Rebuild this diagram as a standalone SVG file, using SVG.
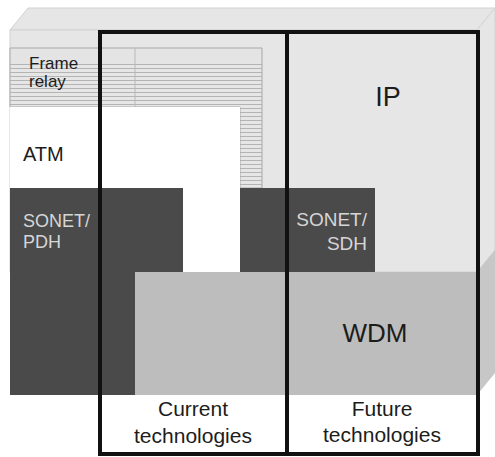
<svg xmlns="http://www.w3.org/2000/svg" width="495" height="457" viewBox="0 0 495 457">
  <defs>
    <!-- fine horizontal ruling used for the frame relay layer -->
    <pattern id="hatch" patternUnits="userSpaceOnUse" width="8" height="4">
      <rect width="8" height="4" fill="#e6e6e6"/>
      <line x1="0" y1="0.5" x2="8" y2="0.5" stroke="#b4b4b4" stroke-width="1"/>
    </pattern>
  </defs>
  <style>
    .lbl { font-family: "Liberation Sans", Arial, sans-serif; fill: #1c1c1c; }
    .inv { font-family: "Liberation Sans", Arial, sans-serif; fill: #d6d6d6; }
    .light { fill: #e6e6e6; stroke: #d2d2d2; stroke-width: 1; }
    .dark { fill: #4a4a4a; }
    .mid { fill: #bdbdbd; }
    .frame { fill: none; stroke: #111; stroke-width: 4; }
  </style>

  <rect width="495" height="457" fill="#ffffff"/>

  <!-- block faces: top and right side -->
  <g id="block">
    <polygon class="light" points="10,30 28,8 495,8 477,30"/>
    <polygon class="light" points="477,30 495,8 495,250 477,272"/>
    <polygon points="477,272 495,250 495,373 477,395" fill="#c7c7c7"/>
  </g>

  <!-- IP layer: light base of the upper front face -->
  <g id="ip">
    <rect class="light" x="10" y="30" width="467" height="242"/>
    <text class="lbl" x="388" y="106" font-size="27" text-anchor="middle">IP</text>
  </g>

  <!-- Frame relay layer (inverted L, ruled) -->
  <g id="frame-relay">
    <rect x="10" y="48" width="252" height="16" fill="#e4e4e4"/>
    <rect x="10" y="64" width="252" height="43" fill="url(#hatch)"/>
    <rect x="240" y="107" width="22" height="81" fill="url(#hatch)"/>
    <path d="M10,48 H262 V188 H240 V107 H10 Z" fill="none" stroke="#a8a8a8" stroke-width="1"/>
    <line x1="135" y1="48" x2="135" y2="107" stroke="#b8b8b8" stroke-width="1"/>
    <text class="lbl" x="29" y="69" font-size="17">Frame</text>
    <text class="lbl" x="29" y="87" font-size="17">relay</text>
  </g>

  <!-- ATM layer -->
  <g id="atm">
    <path d="M10,107 H240 V272 H183 V188 H10 Z" fill="#ffffff"/>
    <text class="lbl" x="23" y="161" font-size="20">ATM</text>
  </g>

  <!-- SONET/PDH layer -->
  <g id="sonet-pdh">
    <path class="dark" d="M10,188 H183 V272 H135 V395 H10 Z"/>
    <text class="inv" x="23" y="227" font-size="18">SONET/</text>
    <text class="inv" x="23" y="248" font-size="18">PDH</text>
  </g>

  <!-- SONET/SDH layer -->
  <g id="sonet-sdh">
    <rect class="dark" x="240" y="188" width="135" height="84"/>
    <text class="inv" x="367" y="226" font-size="19" text-anchor="end">SONET/</text>
    <text class="inv" x="367" y="250" font-size="19" text-anchor="end">SDH</text>
  </g>

  <!-- WDM layer -->
  <g id="wdm">
    <rect class="mid" x="135" y="272" width="342" height="123"/>
    <text class="lbl" x="375" y="342" font-size="26" text-anchor="middle">WDM</text>
  </g>

  <!-- technology groupings -->
  <g id="current">
    <rect class="frame" x="100" y="32" width="187" height="422"/>
    <text class="lbl" x="193" y="416" font-size="21" text-anchor="middle">Current</text>
    <text class="lbl" x="193" y="443" font-size="21" text-anchor="middle">technologies</text>
  </g>
  <g id="future">
    <rect class="frame" x="287" y="32" width="191" height="422"/>
    <text class="lbl" x="382" y="416" font-size="21" text-anchor="middle">Future</text>
    <text class="lbl" x="382" y="442" font-size="21" text-anchor="middle">technologies</text>
  </g>
</svg>
